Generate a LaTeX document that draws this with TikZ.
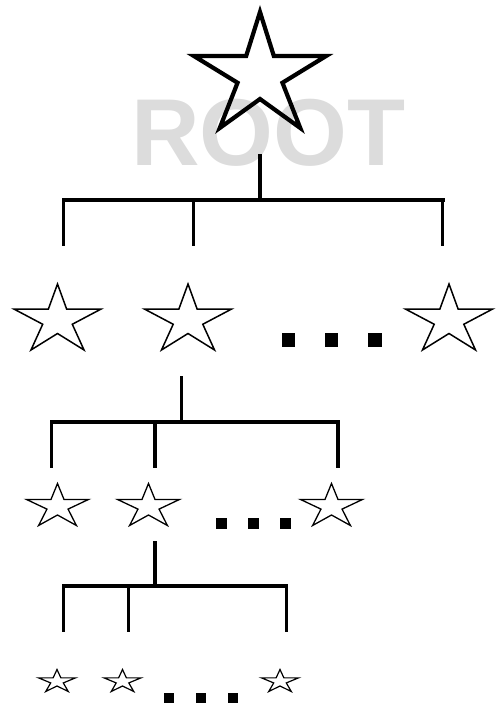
\documentclass[tikz,border=0pt]{standalone}
\usepackage{fontspec}
\setmainfont{Liberation Sans}
\definecolor{rootgray}{RGB}{220,220,220}
\tikzset{
  starpic/.pic={
    \draw[pic actions] (0,0) -- (0.21,0.38) -- (1,0.38) -- (0.34,0.61) -- (0.61,1)
      -- (0,0.75) -- (-0.61,1) -- (-0.34,0.61) -- (-1,0.38) -- (-0.21,0.38) -- cycle;
  },
  bigstar/.style={line width=4.2pt, line join=miter},
  midstar/.style={line width=1.5pt, line join=miter},
  smallstar/.style={line width=1.3pt, line join=miter},
  tinystar/.style={line width=1.2pt, line join=miter},
  branch/.style={line width=3.5pt, line cap=butt},
  dot/.style={fill=black, inner sep=0pt, minimum width=#1, minimum height=#1, draw=none}
}
\begin{document}
\begin{tikzpicture}[x=1pt,y=-1pt]
\useasboundingbox (0,0) rectangle (497,704);
\clip (0,0) rectangle (497,704);
% ROOT label
\node[text=rootgray, font=\bfseries\fontsize{95}{95}\selectfont, inner sep=0pt, anchor=base] (rootlabel) at (268.5,165) {ROOT};
% root star
\pic[bigstar, xscale=66, yscale=116] at (260,12) {starpic};
% level 1 stars
\pic[midstar, xscale=43.5, yscale=66] at (57.5,284) {starpic};
\pic[midstar, xscale=43.5, yscale=66] at (188,284) {starpic};
\pic[midstar, xscale=43.5, yscale=66] at (449,284) {starpic};
\node[dot=13.5pt] (d11) at (288.5,340) {};
\node[dot=13.5pt] (d12) at (331.5,340) {};
\node[dot=13.5pt] (d13) at (375,340) {};
% level 2 stars
\pic[smallstar, xscale=31, yscale=42] at (57.5,483.5) {starpic};
\pic[smallstar, xscale=31, yscale=42] at (148.5,483.5) {starpic};
\pic[smallstar, xscale=31, yscale=42] at (331.5,483.5) {starpic};
\node[dot=11pt] (d21) at (221.5,523.5) {};
\node[dot=11pt] (d22) at (253,523.5) {};
\node[dot=11pt] (d23) at (285.5,523.5) {};
% level 3 stars
\pic[tinystar, xscale=18.5, yscale=22] at (57,669.5) {starpic};
\pic[tinystar, xscale=18.5, yscale=22] at (122.5,669.5) {starpic};
\pic[tinystar, xscale=18.5, yscale=22] at (280,669.5) {starpic};
\node[dot=10pt] (d31) at (169,698) {};
\node[dot=10pt] (d32) at (201,698) {};
\node[dot=10pt] (d33) at (233,698) {};
% branch coordinates, level 0 -> 1
\coordinate (r0) at (260,154);
\coordinate (j0) at (260,200);
\coordinate (h0l) at (62,200);
\coordinate (h0r) at (444.5,200);
\coordinate (a0) at (63.5,201.5);
\coordinate (b0) at (193.5,201.5);
\coordinate (c0) at (442.5,201.5);
\coordinate (a0e) at (63.5,246);
\coordinate (b0e) at (193.5,246);
\coordinate (c0e) at (442.5,246);
\draw[branch] (r0) -- (j0);
\draw[branch] (h0l) -- (h0r);
\draw[branch] (a0) -- (a0e);
\draw[branch] (b0) -- (b0e);
\draw[branch] (c0) -- (c0e);
% level 1 -> 2
\coordinate (r1) at (181.5,376);
\coordinate (j1) at (181.5,422);
\coordinate (h1l) at (50,422);
\coordinate (h1r) at (339.5,422);
\coordinate (a1) at (51.5,423.5);
\coordinate (b1) at (155,423.5);
\coordinate (c1) at (338,423.5);
\coordinate (a1e) at (51.5,468);
\coordinate (b1e) at (155,468);
\coordinate (c1e) at (338,468);
\draw[branch] (r1) -- (j1);
\draw[branch] (h1l) -- (h1r);
\draw[branch] (a1) -- (a1e);
\draw[branch] (b1) -- (b1e);
\draw[branch] (c1) -- (c1e);
% level 2 -> 3
\coordinate (r2) at (155,541);
\coordinate (j2) at (155,586);
\coordinate (h2l) at (62,586);
\coordinate (h2r) at (288,586);
\coordinate (a2) at (63.5,587.5);
\coordinate (b2) at (128.5,587.5);
\coordinate (c2) at (286.5,587.5);
\coordinate (a2e) at (63.5,632);
\coordinate (b2e) at (128.5,632);
\coordinate (c2e) at (286.5,632);
\draw[branch] (r2) -- (j2);
\draw[branch] (h2l) -- (h2r);
\draw[branch] (a2) -- (a2e);
\draw[branch] (b2) -- (b2e);
\draw[branch] (c2) -- (c2e);
\end{tikzpicture}
\end{document}
